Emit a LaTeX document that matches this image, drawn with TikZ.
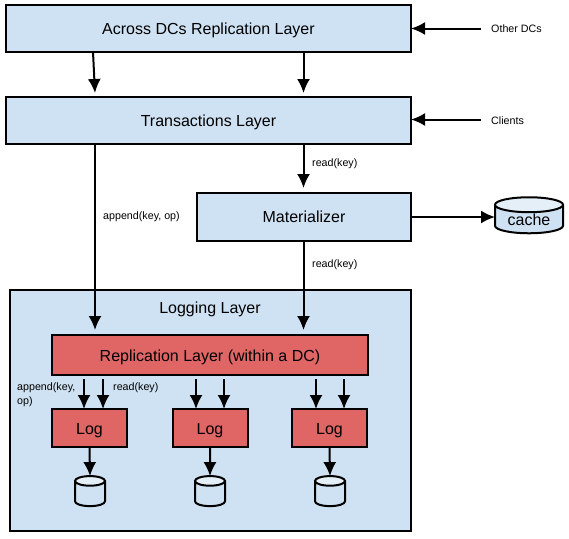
\documentclass[tikz,border=0pt]{standalone}
\usepackage{fontspec}
\setmainfont{Liberation Sans}
\usetikzlibrary{arrows.meta,shapes.geometric}
\definecolor{layerblue}{HTML}{CFE2F3}
\definecolor{logred}{HTML}{E06666}
\definecolor{diskend}{HTML}{E4EFF8}
\tikzset{
layer/.style={draw=black,line width=2pt,fill=layerblue,inner sep=0pt,outer sep=0pt,text height=11pt,text depth=0pt,font=\fontsize{16}{19}\selectfont},
redbox/.style={layer,fill=logred,text height=12.5pt},
flow/.style={line width=2pt,-{Latex[length=14pt,width=13pt]}},
small/.style={inner sep=0pt,align=left,font=\fontsize{10.7}{13.5}\selectfont},
disk/.style={cylinder,shape border rotate=90,draw=black,line width=2pt,inner sep=0pt,outer sep=0pt,cylinder uses custom fill,cylinder body fill=layerblue,cylinder end fill=diskend,font=\fontsize{16}{19}\selectfont}
}
\begin{document}
\begin{tikzpicture}[x=1pt,y=-1pt]
\useasboundingbox (0,0) rectangle (569,538);

\node[layer,minimum width=405pt,minimum height=47pt] (across) at (208.5,28.5) {Across DCs Replication Layer};
\node[layer,minimum width=405pt,minimum height=47pt] (trans) at (208.5,120.5) {Transactions Layer};
\node[layer,minimum width=214pt,minimum height=48pt] (mat) at (304,217) {Materializer};
\node[layer,minimum width=401pt,minimum height=241pt] (logging) at (210.5,410.5) {};
\node[font=\fontsize{16}{19}\selectfont,inner sep=0pt,text height=11pt,text depth=0pt] (logtitle) at (210,308) {Logging Layer};
\node[redbox,minimum width=316pt,minimum height=40pt] (repl) at (210,355) {Replication Layer (within a DC)};
\node[disk,aspect=0.35,minimum width=68pt,minimum height=36pt] (cache) at (529,219.5) {cache};

\foreach \i/\xl/\xd in {1/89.5/90,2/210/210,3/329.5/330}
{
\node[redbox,minimum width=75pt,minimum height=38pt] (log\i) at (\xl,428) {Log};
\node[disk,aspect=1.2,minimum width=30pt,minimum height=30pt] (disk\i) at (\xd,494) {\phantom{x}};
\draw[flow] (log\i.south) -- (disk\i.north);
}

\coordinate (cola) at (95,0);
\coordinate (colb) at (303.5,0);
\coordinate (other) at (481,28.5);
\coordinate (clients) at (481,119.5);

\foreach \i/\xa/\xb in {1/84/103,2/196/224,3/316/344}
{
\coordinate (ra\i) at (\xa,379);
\coordinate (rb\i) at (\xb,379);
\draw[flow] (ra\i) -- (ra\i |- log\i.north);
\draw[flow] (rb\i) -- (rb\i |- log\i.north);
}

\draw[flow] (across.south -| 93,0) -- (95,93);
\draw[flow] (across.south -| colb) -- (303.5,93);
\draw[flow] (trans.south -| cola) -- (95,330);
\draw[flow] (trans.south -| colb) -- (303.5,188);
\draw[flow] (mat.south -| colb) -- (303.5,330);
\draw[flow] (other) -- (across.east |- other);
\draw[flow] (clients) -- (trans.east |- clients);
\draw[flow] (mat.east) -- (cache.west |- mat.east);

\node[small,anchor=west] (othertxt) at (491,28.5) {Other DCs};
\node[small,anchor=west] (clienttxt) at (491,120.5) {Clients};
\node[small,anchor=west] (readb) at (312,164) {read(key)};
\node[small,anchor=west] (readc) at (312,265) {read(key)};
\node[small,anchor=west] (appa) at (103,217) {append(key, op)};
\node[small,anchor=north west] (appb) at (17,383) {append(key,\\op)};
\node[small,anchor=west] (readd) at (113,388) {read(key)};
\end{tikzpicture}
\end{document}
